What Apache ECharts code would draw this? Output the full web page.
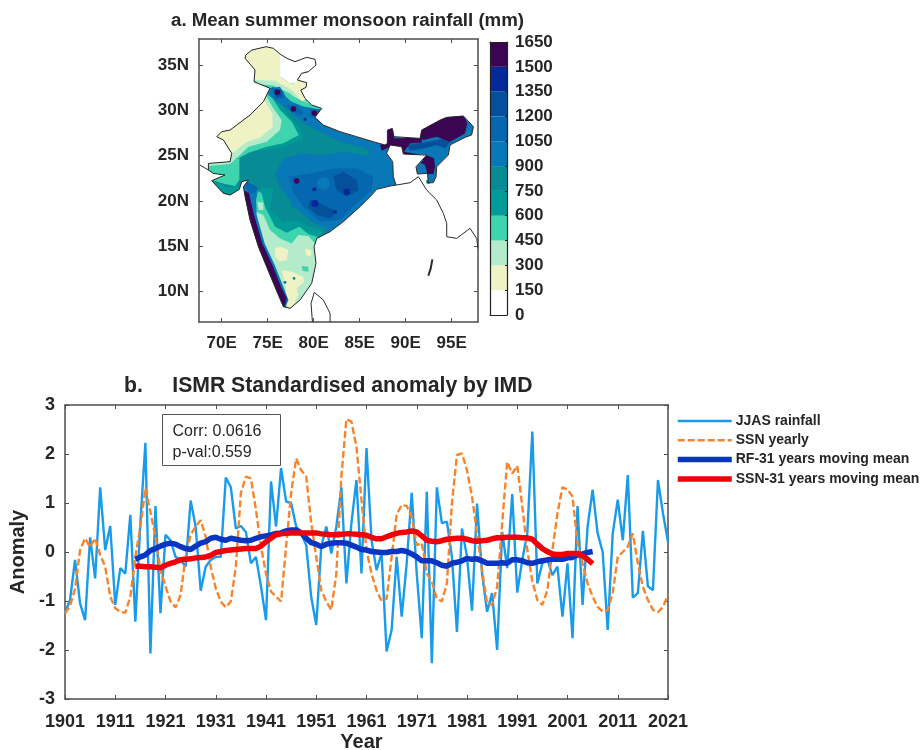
<!DOCTYPE html>
<html><head><meta charset="utf-8">
<style>html,body{margin:0;padding:0;background:#fff}#c{width:922px;height:750px;filter:blur(0.55px)}</style>
<script src="https://cdn.jsdelivr.net/npm/echarts@6/dist/echarts.min.js"></script>
</head><body><div id="c"></div>
<script>
// ---- Panel a: colour levels ----
const levelTicks=[0,150,300,450,600,750,900,1050,1200,1350,1500,1650];
const levelColors=['#ffffff','#eff2c4','#b4ebcb','#3ed4ae','#009a98','#078b95','#0879b6','#0567b0','#064f9b','#04299a','#3c0553'];
const lonTicks=[70,75,80,85,90,95];
const latTicks=[10,15,20,25,30,35];
// ---- Panel a: geography, [lon,lat] ----
const indiaOutline=[[72.61,36.1],[73.26,36.65],[74.82,37.02],[75.62,36.84],[76.34,36.21],[77.07,35.74],[77.97,35.37],[79.24,35.85],[80.14,35.63],[80.25,35],[79.42,34.26],[78.7,34.08],[78.22,33.35],[79.24,33.05],[79.17,32.54],[78.59,32.24],[79.06,31.32],[79.78,30.59],[80.87,30.22],[80.14,29.23],[81.05,28.38],[82.86,27.65],[84.67,27.1],[86.49,26.54],[87.75,26.18],[88.01,26.36],[88.01,27.83],[88.55,28.01],[88.73,27.1],[91.56,26.91],[91.74,27.83],[93.73,28.93],[94.46,29.23],[96.27,29.38],[97.36,28.2],[97.17,27.28],[96.45,27.02],[94.82,26.18],[94.64,25.07],[93.37,23.79],[93.3,22.68],[93,22.02],[92.46,22.02],[92.36,23.05],[91.27,22.98],[91.12,23.79],[92.28,25.07],[89.75,25.18],[89.57,25.99],[88.3,26.18],[87.93,25.26],[88.59,24.34],[88.66,22.68],[88.95,21.76],[88.3,21.65],[86.85,21.29],[86.3,20.66],[85.04,19.38],[83.22,17.72],[81.78,16.62],[80.33,15.88],[80.04,14.96],[80.25,13.13],[79.78,10.92],[78.51,9.08],[77.43,8.16],[76.7,8.35],[76.16,9.63],[75.25,11.84],[73.99,14.96],[73.08,17.9],[72.54,20.48],[72.36,21.58],[72.9,22.32],[72.17,22.13],[71.92,21.29],[70.91,20.66],[70.18,20.85],[68.91,22.24],[70.36,22.87],[69.09,23.05],[68.55,23.42],[68.55,24.15],[70.91,24.34],[71.09,25.26],[70.18,26.73],[69.46,27.1],[70,27.65],[70.91,27.83],[73.08,29.49],[74.53,30.96],[75.25,32.43],[73.51,33.16],[73.62,34.45],[72.54,35.74]];
const pakistanTail=[[67.64,23.97],[68.55,23.42]];
const myanmarCoast=[[88.95,21.76],[90.47,22.02],[91.38,22.68],[92.28,21.21],[93.37,20.11],[94.09,18.64],[94.46,17.54],[94.46,16.07],[95.54,15.88],[96.99,16.99],[97.72,15.88],[97.86,14.78]];
const sriLanka=[[79.86,6.66],[79.71,8.71],[80.07,9.93],[81.05,9.08],[81.78,7.61],[81.78,6.66]];
const andaman=[[92.9,13.57],[92.72,12.57],[92.46,11.76]];
// rainfall bands: [level index, polygon], painted in order over a level-6 base
const rainBands=[
[6,indiaOutline],
[5,[[74.53,33.35],[76.7,31.32],[77.61,29.67],[78.88,28.57],[81.05,27.46],[82.86,26.54],[85.76,25.7],[86.12,24.96],[83.22,25.44],[81.05,25.07],[78.88,25.26],[76.7,24.71],[75.8,23.05],[76.34,21.58],[77.43,20.11],[78.51,18.82],[79.78,17.72],[81.41,16.99],[80.69,15.33],[69.09,15.33],[66.92,24.15],[69.09,33.35]]],
[4,[[66.92,24.15],[71.63,24.45],[73.44,25.44],[76.7,25.92],[78.88,26.8],[78.44,28.2],[77.07,29.67],[75.98,31.32],[75.07,32.61],[73.44,33.71],[69.09,33.71]]],
[4,[[73.8,21.21],[75.62,21.58],[75.25,19.01],[76.7,17.72],[78.15,17.9],[79.6,17.17],[80.87,16.8],[80.69,15.33],[73.8,15.33],[73.08,20.48]]],
[4,[[69.09,22.13],[70.36,21.58],[71.45,21.58],[71.81,22.13],[71.92,20.48],[70.54,20.11],[69.09,20.85]]],
[3,[[66.92,24.52],[71.81,24.71],[72.9,25.33],[74.89,25.99],[76.7,26.36],[78.37,27.28],[77.61,28.75],[76.34,30.04],[75.43,31.51],[74.53,32.61],[73.44,33.71],[69.09,33.71]]],
[3,[[68.37,24.15],[71.92,24.71],[71.92,22.32],[71.45,21.65],[70.36,21.88],[68.91,22.32],[67.5,23]]],
[2,[[66.92,24.15],[68.55,23.86],[70.91,24.08],[71.99,25.07],[72.9,25.99],[74.89,26.54],[76.34,27.83],[76.52,28.93],[75.62,30.22],[74.89,31.51],[74.17,32.61],[69.09,32.61]]],
[1,[[69.09,27.83],[69.82,25.07],[71.09,25.18],[72.54,26.43],[74.17,27.02],[75.54,28.2],[75.51,29.67],[74.96,30.59],[74.53,31.32],[72.72,31.51]]],
[3,[[72.9,21.21],[73.73,21.21],[74.35,20.85],[74.71,19.38],[75.8,17.17],[77.07,16.51],[78.44,17.17],[79.42,16.36],[80.87,15.88],[80.87,12.39],[80.14,9.82],[77.79,7.61],[76.34,7.98],[75.62,9.82],[74.17,13.13],[72.9,16.43],[72.54,19.01]]],
[2,[[73.7,18.82],[74.53,18.46],[75.25,16.8],[76.34,15.88],[77.61,15.33],[78.33,16.25],[79.42,16.14],[80.14,15.33],[80.4,13.13],[79.96,10.55],[78.15,8.35],[77.43,7.79],[76.99,8.53],[76.16,10.55],[75.07,13.13],[74.17,16],[73.7,17.54]]],
[2,[[73.88,19.93],[74.53,19.82],[74.53,19.01],[74.02,19.01]]],
[1,[[75.8,14.78],[76.34,14.96],[77.25,14.6],[77.07,13.49],[76.34,13.31],[75.8,13.86]]],
[1,[[76.52,12.39],[77.61,12.21],[78.88,11.65],[78.95,11.1],[78.15,10.37],[78.33,9.63],[77.61,8.16],[76.99,8.53],[76.99,10.18]]],
[1,[[79.06,14.78],[79.78,14.52],[79.67,13.86],[79.17,14.04]]],
[3,[[78.7,12.83],[79.42,12.76],[79.42,12.21],[78.8,12.32]]],
[3,[[76.7,33.2],[79.5,33.2],[80.9,30.2],[79,30.4],[76.7,31.3]]],
[2,[[73.26,33.55],[75.8,33.35],[77.8,32.3],[79.1,31],[79.8,30.6],[77.4,31.7],[75.8,32.6],[74.2,32.8]]],
[1,[[71.99,37.02],[76.7,37.39],[76.34,34.63],[76.34,33.71],[77.43,32.98],[78.33,32.79],[78.15,31.88],[78.88,30.96],[77.61,32.24],[75.8,33.27],[73.99,33.35],[73.26,33.35],[71.99,35.18]]],
[1,[[77.9,34.2],[79.5,34.2],[79.4,32.4],[79.1,31.2],[78.7,31],[77.9,32]]],
[0,[[76.34,34.82],[76.34,33.71],[77.43,32.98],[77.95,32.95],[78.25,33.4],[78.6,34.15],[79.42,34.3],[80.69,34.26],[80.69,36.65],[76.34,36.65]]],
[3,[[73.9,32.9],[75.6,32.75],[77.3,31.95],[78.6,30.95],[79.96,30.55],[80.87,30.22],[80.69,29.6],[77.79,30.96],[76.34,31.69],[74.89,31.88]]],
[6,[[75.07,32.43],[76.34,32.61],[76.99,31.51],[77.97,30.59],[79.96,30.22],[80.87,30.04],[80.14,29.12],[81.05,28.2],[79.96,28.38],[78.51,29.12],[77.07,30.22],[75.98,30.96],[75.07,31.69]]],
[7,[[75.43,32.61],[76.7,32.06],[76.7,31.32],[75.8,31.32]]],
[7,[[77.07,30.59],[78.15,30.59],[78.9,29.7],[78.5,29.4],[77.3,30]]],
[7,[[79.6,30.2],[80.7,30.1],[80.2,29.2],[79.6,29.2]]],
[8,[[75.72,32.32],[76.52,32.24],[76.52,31.51],[75.87,31.51]]],
[7,[[77.25,22.68],[79.6,23.05],[82.14,23.6],[84.67,23.6],[86.49,22.68],[86.3,21.21],[84.67,19.74],[82.86,17.9],[80.69,17.72],[78.88,19.38],[77.79,20.85]]],
[8,[[82.14,22.68],[83.22,23.24],[84.67,22.32],[84.86,21.21],[83.59,20.48],[82.5,21.21]]],
[8,[[79.6,20.11],[80.69,19.74],[82.5,18.82],[81.78,18.09],[80.33,18.46],[79.42,19.38]]],
[6,[[72.36,22.32],[73.99,21.4],[73.73,20.11],[73.8,18.46],[74.67,15.33],[75.76,12.94],[76.7,10.55],[77.25,9.08],[76.88,8.16],[75.62,9.82],[73.62,15.33],[72.54,19.01]]],
[7,[[72.36,22.32],[73.88,21.58],[73.62,20.85],[72.9,20.85]]],
[10,[[72.36,21.21],[72.97,20.85],[73.51,18.46],[74.42,15.33],[75.51,12.94],[76.45,10.55],[77.07,9.26],[76.78,8.16],[76.16,9.63],[74.96,12.57],[73.62,15.33],[72.36,19.74]]],
[8,[[90.11,26.18],[91.92,26.43],[94.09,26.91],[94.89,26.54],[94.28,25.81],[93.37,26.18],[92.1,25.81],[90.47,25.55]]],
[10,[[91.63,27.83],[93.73,28.93],[94.46,29.38],[96.27,29.49],[96.7,28.57],[96.45,27.46],[94.82,26.54],[93.37,27.1],[91.92,26.73],[91.38,27.1]]],
[10,[[87.21,26.18],[88.01,26.36],[88.01,28.01],[88.66,28.01],[88.73,26.91],[91.74,27.02],[91.74,26.43],[90.47,26.36],[89.82,25.44],[92.28,24.96],[92.28,24.45],[89.67,25.04],[89.38,25.99],[88.3,25.99],[87.39,25.55]]],
[10,[[92.21,25.07],[93.08,24.71],[93.19,23.71],[93.01,22.98],[92.36,22.98],[92.1,23.97],[91.63,24.23],[92.21,24.71]]]
];
// rainfall spots: [lon, lat, radius in degrees, level index]
const rainSpots=[[81.05,21.95,0.7,6],[77.97,19.74,0.45,6],[76.05,31.99,0.3,10],[77.79,30.15,0.3,10],[80.07,29.67,0.3,10],[78.15,22.21,0.3,10],[83.59,21.03,0.35,9],[80.14,19.74,0.4,9],[80.07,21.29,0.22,9],[79.06,29,0.15,9],[82.32,18.82,0.2,9],[77.86,11.47,0.15,5],[76.88,11.03,0.15,7],[92.46,22.13,0.25,5],[96.8,27.46,0.2,5]];
// ---- Panel b: anomalies ----
const jjasStart=1901;
const jjasRainfall=[-1.25,-0.98,-0.16,-1.05,-1.39,0.3,-0.54,1.32,0.04,0.53,
-1.08,-0.33,-0.44,0.76,-1.42,0.6,2.23,-2.07,0.94,-1.25,
0.35,0.24,-0.1,-0.16,-0.3,1.05,0.52,-0.79,-0.3,-0.16,
-0.1,-0.1,1.52,1.32,0.48,0.53,0.41,-0.23,-0.1,-0.7,
-1.39,1.44,0.52,1.71,1.03,1,0.52,0.38,0.14,-0.92,
-1.49,0.11,0.52,-0.03,0.52,1.32,-0.64,0.59,1.47,-0.44,
2.12,0.24,-0.37,-0.03,-2.03,-1.59,-0.1,-1.32,-0.23,1.21,
-0.44,-1.76,1.23,-2.27,1.32,0.59,0.62,-0.1,-1.63,0.48,
-0.1,-1.2,0.99,-0.44,-1.22,-0.84,-2,0.41,-0.33,1.18,
-0.83,-0.16,0.38,2.46,-0.64,-0.23,-0.16,-0.47,-0.3,-1.32,
-0.23,-1.76,0.94,-1.08,0.52,1.27,0.38,0,-1.59,0.38,
1.07,0.24,1.57,-0.93,-0.84,0.43,-0.7,-0.78,1.47,0.79,0.21];
const ssnYearly=[-1.25,-1.1,-0.75,0.04,0.28,0.1,0.28,-0.06,-0.3,-0.91,
-1.15,-1.22,-1.24,-0.91,-0.1,0.52,1.3,0.82,0.31,-0.37,
-0.7,-1.01,-1.13,-0.88,-0.1,0.35,0.52,0.65,0.31,-0.3,
-0.74,-1.01,-1.13,-1.01,-0.3,1.2,1.54,1.5,0.86,0.11,
-0.44,-0.81,-0.91,-1.01,0.11,1.2,1.91,1.67,1.54,0.59,
-0.1,-0.78,-1.01,-1.18,-0.44,1.54,2.71,2.66,2.15,1.06,
0.04,-0.44,-0.78,-1,-0.95,-0.1,0.76,0.96,0.94,0.72,
0.14,0.18,-0.44,-0.6,-0.95,-1.01,-0.64,0.99,1.98,2.01,
1.67,1.13,0.38,-0.37,-1.05,-1.08,-0.71,0.59,1.84,1.6,
1.76,0.93,0.04,-0.6,-0.98,-1.08,-0.78,0.04,0.79,1.32,
1.28,1.13,0.18,-0.23,-0.64,-0.91,-1.12,-1.22,-1.18,-0.84,
-0.1,0,0.11,0.38,-0.23,-0.71,-0.98,-1.18,-1.23,-1.12,-0.88];
const meanStart=1915;
const rfMovingMean=[-0.15,-0.1,-0.06,0.03,0.07,0.12,0.16,0.18,0.16,0.11,0.07,0.05,0.12,0.18,0.21,0.28,0.3,0.26,0.24,0.28,0.26,0.24,0.23,0.24,0.28,0.31,0.33,0.35,0.38,0.39,0.43,0.45,0.45,0.39,0.28,0.19,0.16,0.11,0.16,0.18,0.19,0.19,0.18,0.14,0.1,0.05,0.04,0.01,0,-0.01,-0.01,0.01,0.01,0.03,0.01,-0.04,-0.1,-0.18,-0.18,-0.18,-0.22,-0.27,-0.29,-0.23,-0.21,-0.18,-0.13,-0.15,-0.14,-0.18,-0.23,-0.23,-0.23,-0.22,-0.23,-0.16,-0.16,-0.18,-0.22,-0.23,-0.2,-0.18,-0.16,-0.15,-0.15,-0.15,-0.12,-0.11,-0.06,-0.04,-0.01,0.01];
const ssnMovingMean=[-0.29,-0.29,-0.3,-0.3,-0.31,-0.32,-0.27,-0.23,-0.2,-0.16,-0.15,-0.14,-0.12,-0.11,-0.1,-0.07,-0.01,0.01,0.03,0.04,0.05,0.06,0.07,0.07,0.07,0.12,0.21,0.28,0.35,0.37,0.38,0.39,0.39,0.39,0.39,0.39,0.39,0.37,0.36,0.35,0.35,0.36,0.37,0.37,0.36,0.35,0.34,0.3,0.27,0.27,0.31,0.35,0.38,0.4,0.41,0.43,0.41,0.33,0.24,0.22,0.21,0.23,0.26,0.27,0.28,0.28,0.26,0.23,0.22,0.23,0.24,0.27,0.29,0.29,0.3,0.3,0.3,0.29,0.29,0.26,0.16,0.07,0.01,-0.04,-0.05,-0.05,-0.03,-0.03,-0.03,-0.08,-0.15,-0.24];
const yearTicks=[1901,2021];
const anomalyRange=[-3,3];
const statNotes=['Corr: 0.0616','p-val:0.559'];

const FONT='"Liberation Sans",Arial,sans-serif', INK='#262626', FRAME='#4d4d4d';
const yrs=(start,arr)=>arr.map((v,i)=>[start+i,v]);
const edge={show:true,onZero:false,lineStyle:{color:FRAME,width:1.5}};
const tickIn={show:true,inside:true,length:4,lineStyle:{color:FRAME,width:1}};
const lab=(size)=>({color:INK,fontFamily:FONT,fontWeight:'bold',fontSize:size});
const outlineFor=(api)=>indiaOutline.map(p=>api.coord(p));

const mapX={type:'value',min:67.53,max:97.86,gridIndex:0,splitLine:{show:false},axisLine:edge,
  axisTick:Object.assign({},tickIn,{customValues:lonTicks}),
  axisLabel:Object.assign(lab(17),{customValues:lonTicks,formatter:v=>v+'E',margin:13})};
const mapY={type:'value',min:6.66,max:37.87,gridIndex:0,splitLine:{show:false},axisLine:edge,
  axisTick:Object.assign({},tickIn,{customValues:latTicks}),
  axisLabel:Object.assign(lab(17),{customValues:latTicks,formatter:v=>v+'N',margin:10})};
const mirror=(ax,pos)=>Object.assign({},ax,{position:pos,axisLabel:{show:false}});
const cbLine={show:true,onZero:false,lineStyle:{color:'#222',width:1.2}};

const option={
  backgroundColor:'#fff',animation:false,
  title:[
    {text:'a. Mean summer monsoon rainfall (mm)',left:171,top:11,padding:0,textStyle:lab(18.7)},
    {text:'b.     ISMR Standardised anomaly by IMD',left:124,top:376,padding:0,textStyle:lab(21.2)}
  ],
  legend:{orient:'vertical',left:670,top:409,itemWidth:54,itemHeight:14,itemGap:5.3,
    data:['JJAS rainfall','SSN yearly','RF-31 years moving mean','SSN-31 years moving mean'],
    lineStyle:{width:'inherit'},itemStyle:{opacity:0},
    textStyle:Object.assign(lab(14),{padding:[0,0,0,-1]})},
  grid:[
    {left:199,top:39,width:279,height:283,outerBoundsMode:'none'},
    {left:490,top:42,width:17,height:273,outerBoundsMode:'none'},
    {left:65,top:405,width:603,height:294,outerBoundsMode:'none'}
  ],
  xAxis:[
    mapX,mirror(mapX,'top'),
    {type:'category',gridIndex:1,z:5,data:['rain'],axisTick:{show:false},axisLabel:{show:false},axisLine:cbLine},
    {type:'category',gridIndex:1,z:5,position:'top',data:['rain'],axisTick:{show:false},axisLabel:{show:false},axisLine:cbLine},
    {type:'value',gridIndex:2,min:yearTicks[0],max:yearTicks[1],interval:10,splitLine:{show:false},axisLine:edge,axisTick:tickIn,
     axisLabel:Object.assign(lab(18),{margin:14,showMinLabel:true,showMaxLabel:true,formatter:v=>String(v)}),
     name:'Year',nameLocation:'middle',nameGap:33,nameTextStyle:Object.assign(lab(20),{padding:[0,10,0,0]})},
    {type:'value',gridIndex:2,position:'top',min:yearTicks[0],max:yearTicks[1],interval:10,splitLine:{show:false},axisLine:edge,axisTick:tickIn,axisLabel:{show:false}}
  ],
  yAxis:[
    mapY,mirror(mapY,'right'),
    {type:'value',gridIndex:1,z:5,min:0,max:1650,interval:150,position:'right',splitLine:{show:false},axisLine:cbLine,
     axisTick:{show:true,inside:true,length:2,lineStyle:{color:'#222'}},axisLabel:Object.assign(lab(17),{margin:8,formatter:v=>String(v)})},
    {type:'value',gridIndex:1,z:5,min:0,max:1650,interval:150,position:'left',splitLine:{show:false},axisLine:cbLine,axisTick:{show:false},axisLabel:{show:false}},
    {type:'value',gridIndex:2,min:anomalyRange[0],max:anomalyRange[1],interval:1,splitLine:{show:false},axisLine:edge,axisTick:tickIn,
     axisLabel:Object.assign(lab(18),{margin:10}),
     name:'Anomaly',nameLocation:'middle',nameRotate:90,nameGap:31,nameTextStyle:lab(20)},
    {type:'value',gridIndex:2,position:'right',min:anomalyRange[0],max:anomalyRange[1],interval:1,splitLine:{show:false},axisLine:edge,axisTick:tickIn,axisLabel:{show:false}}
  ],
  series:[
    {type:'custom',name:'bands',xAxisIndex:0,yAxisIndex:0,clip:true,silent:true,z:2,
     data:rainBands.map((b,i)=>[b[1][0][0],b[1][0][1],i]),
     renderItem:(p,api)=>{const b=rainBands[api.value(2)];
       return {type:'polygon',shape:{points:b[1].map(q=>api.coord(q))},style:{fill:levelColors[b[0]]},
         clipPath:{type:'polygon',shape:{points:outlineFor(api)}}};}},
    {type:'custom',name:'spots',xAxisIndex:0,yAxisIndex:0,silent:true,z:3,
     data:rainSpots,
     renderItem:(p,api)=>{const c=api.coord([api.value(0),api.value(1)]),r=api.size([api.value(2),0])[0];
       return {type:'circle',shape:{cx:c[0],cy:c[1],r:r},style:{fill:levelColors[api.value(3)]}};}},
  ].concat([[indiaOutline.concat([indiaOutline[0]]),1],[pakistanTail,1],[myanmarCoast,1],[sriLanka,1],[andaman,2]].map(s=>({
    type:'line',xAxisIndex:0,yAxisIndex:0,data:s[0],showSymbol:false,symbol:'none',silent:true,z:4,
    lineStyle:{color:'#2a2a2a',width:s[1]}}))).concat(levelColors.map((col,i)=>({type:'bar',name:'lvl'+i,xAxisIndex:2,yAxisIndex:2,stack:'cb',barWidth:'100%',silent:true,z:1,
    itemStyle:{color:col},data:[levelTicks[i+1]-levelTicks[i]]}))).concat([
    {type:'line',name:'JJAS rainfall',xAxisIndex:4,yAxisIndex:4,data:yrs(jjasStart,jjasRainfall),showSymbol:false,z:5,
     lineStyle:{color:'#1a9bea',width:2.4},itemStyle:{color:'#1a9bea'},symbol:'none'},
    {type:'line',name:'SSN yearly',xAxisIndex:4,yAxisIndex:4,data:yrs(jjasStart,ssnYearly),showSymbol:false,z:6,
     lineStyle:{color:'#f5842c',width:2.4,type:[7,3]},itemStyle:{color:'#f5842c'},symbol:'none'},
    {type:'line',name:'RF-31 years moving mean',xAxisIndex:4,yAxisIndex:4,data:yrs(meanStart,rfMovingMean),showSymbol:false,z:7,
     lineStyle:{color:'#0a35c0',width:5.5},itemStyle:{color:'#0a35c0'},symbol:'none'},
    {type:'line',name:'SSN-31 years moving mean',xAxisIndex:4,yAxisIndex:4,data:yrs(meanStart,ssnMovingMean),showSymbol:false,z:8,
     lineStyle:{color:'#f00008',width:5.5},itemStyle:{color:'#f00008'},symbol:'none'}
  ]),
  graphic:[{type:'group',left:162,top:414,z:20,children:[
    {type:'rect',shape:{x:0,y:0,width:118,height:51},style:{fill:'#fff',stroke:'#555',lineWidth:1}},
    {type:'text',x:10,y:9,style:{text:statNotes[0],fill:INK,font:'16px '+FONT}},
    {type:'text',x:10,y:30,style:{text:statNotes[1],fill:INK,font:'16px '+FONT}}
  ]}]
};
const chart=echarts.init(document.getElementById('c'),null,{renderer:'canvas',width:922,height:750});
chart.setOption(option);
</script></body></html>
